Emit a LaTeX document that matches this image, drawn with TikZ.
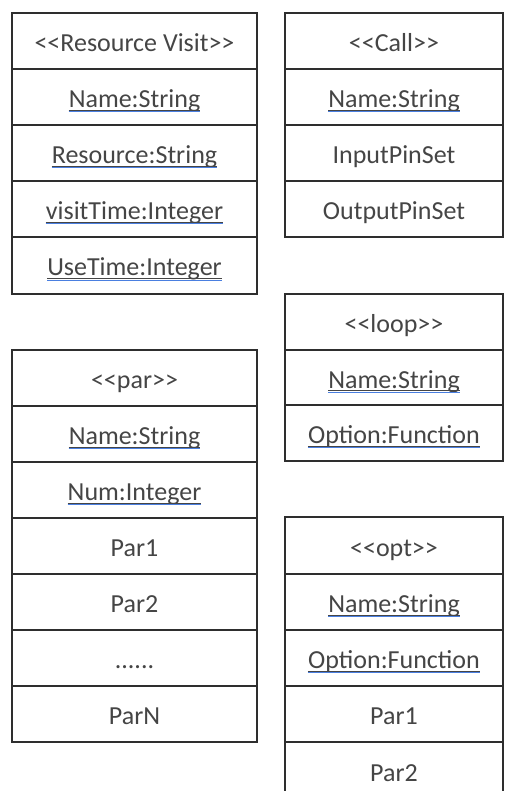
\documentclass[tikz,border=0pt]{standalone}
\usepackage{fontspec}
\setmainfont{Carlito}
\usetikzlibrary{calc}

\definecolor{rule}{HTML}{2E2E2E}
\definecolor{ink}{HTML}{454545}
\definecolor{ulblue}{HTML}{4A7FE0}

\tikzset{
  cellbox/.style={draw=rule, line width=1.3pt, inner sep=0pt, rectangle},
  celltext/.style={anchor=base, inner sep=0pt, text=ink,
                   font=\fontsize{26}{30}\selectfont},
  ulgray/.style={draw=ink, line width=0.8pt},
  ulblue/.style={draw=ulblue, line width=1pt},
}

% one compartment of a class box: name, x0, x1, ytop, ybot, text
\newcommand\umlcell[6]{%
  \node[cellbox, minimum width={(#3-#2)*1pt}, minimum height={(#5-#4)*1pt}]
    (#1) at ({(#2+#3)/2},{(#4+#5)/2}) {};
  \node[celltext] (#1-t) at ($(#1.center)+(0,10.5)$) {#6};
}
% same, with the attribute underlined
\newcommand\umlucell[6]{%
  \umlcell{#1}{#2}{#3}{#4}{#5}{#6}%
  \draw[ulgray] ([yshift=-2.6pt]#1-t.base west) -- ([yshift=-2.6pt]#1-t.base east);
  \draw[ulblue] ([yshift=-4pt]#1-t.base west) -- ([yshift=-4pt]#1-t.base east);
}

\begin{document}
\begin{tikzpicture}[x=1pt,y=-1pt]
\useasboundingbox (0,0) rectangle (504,791);
\clip (0,0) rectangle (504,791);

% Resource Visit
\umlcell {rv0}{12}{257}{13}{69}{<{}<Resource Visit>{}>}
\umlucell{rv1}{12}{257}{69}{125}{Name:String}
\umlucell{rv2}{12}{257}{125}{181}{Resource:String}
\umlucell{rv3}{12}{257}{181}{237}{visitTime:Integer}
\umlucell{rv4}{12}{257}{237}{294}{UseTime:Integer}

% Call
\umlcell {ca0}{285}{503}{13}{69}{<{}<Call>{}>}
\umlucell{ca1}{285}{503}{69}{125}{Name:String}
\umlcell {ca2}{285}{503}{125}{181}{InputPinSet}
\umlcell {ca3}{285}{503}{181}{237}{OutputPinSet}

% loop
\umlcell {lp0}{285}{503}{294}{350}{<{}<loop>{}>}
\umlucell{lp1}{285}{503}{350}{405}{Name:String}
\umlucell{lp2}{285}{503}{405}{461}{Option:Function}

% par
\umlcell {pa0}{12}{257}{350}{406}{<{}<par>{}>}
\umlucell{pa1}{12}{257}{406}{462}{Name:String}
\umlucell{pa2}{12}{257}{462}{518}{Num:Integer}
\umlcell {pa3}{12}{257}{518}{574}{Par1}
\umlcell {pa4}{12}{257}{574}{630}{Par2}
\umlcell {pa5}{12}{257}{630}{686}{......}
\umlcell {pa6}{12}{257}{686}{742}{ParN}

% opt
\umlcell {op0}{285}{503}{517}{574}{<{}<opt>{}>}
\umlucell{op1}{285}{503}{574}{630}{Name:String}
\umlucell{op2}{285}{503}{630}{686}{Option:Function}
\umlcell {op3}{285}{503}{686}{742}{Par1}
\umlcell {op4}{285}{503}{742}{800}{Par2}
\end{tikzpicture}
\end{document}
